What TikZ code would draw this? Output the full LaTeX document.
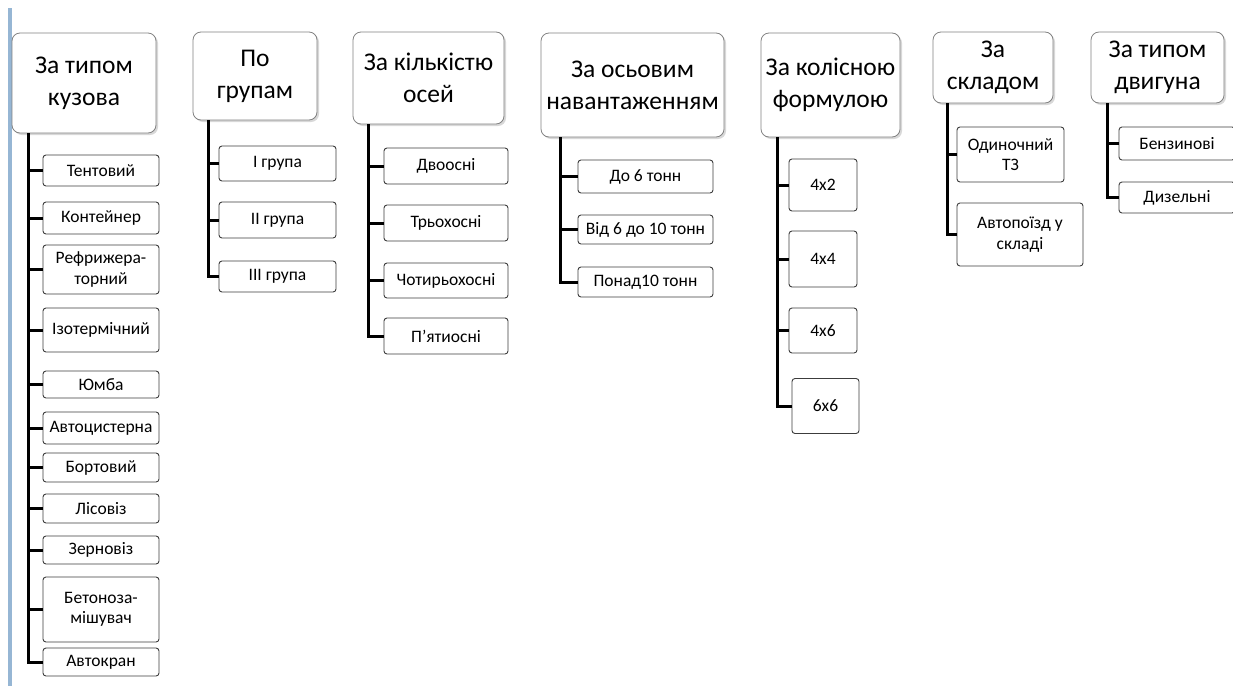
\documentclass[tikz,border=0pt]{standalone}
\usepackage{fontspec}
\setmainfont{Carlito}
\usetikzlibrary{shadows}
\definecolor{edgeblue}{RGB}{150,182,212}
\definecolor{boxline}{RGB}{60,60,60}
\definecolor{headline}{RGB}{130,130,130}

\begin{document}
\begin{tikzpicture}[x=1pt,y=-1pt,
  head/.style={draw=headline,line width=0.8pt,fill=white,rounded corners=8pt,
    align=center,inner sep=0pt,font=\fontsize{25.5}{32}\selectfont,
    drop shadow={shadow xshift=2pt,shadow yshift=-2pt,opacity=0.3,fill=gray}},
  item/.style={draw=boxline,line width=0.9pt,fill=white,rounded corners=3pt,
    align=center,inner sep=0pt,font=\fontsize{17.5}{20.5}\selectfont},
  link/.style={line width=3pt,black}]
\useasboundingbox (0,0) rectangle (1233,686);
\clip (0,0) rectangle (1233,686);
\fill[white] (0,0) rectangle (1233,686);
\draw[edgeblue,line width=3.5pt] (10,8) -- (10,686);

% headers
\node[head,minimum width=144,minimum height=100] (h1) at (84,83) {За типом\\кузова};
\node[head,minimum width=124,minimum height=88] (h2) at (255,76) {По\\групам};
\node[head,minimum width=151,minimum height=92] (h3) at (428.5,78) {За кількістю\\осей};
\node[head,minimum width=183,minimum height=104] (h4) at (632.5,85) {За осьовим\\навантаженням};
\node[head,minimum width=139,minimum height=104] (h5) at (830.5,85) {За колісною\\формулою};
\node[head,minimum width=120,minimum height=71] (h6) at (993,67.5) {За\\складом};
\node[head,minimum width=133,minimum height=71] (h7) at (1157.5,67.5) {За типом\\двигуна};

% trunk tops
\coordinate (t1) at (28,133);
\coordinate (t2) at (208,120);
\coordinate (t3) at (368,124);
\coordinate (t4) at (560,137);
\coordinate (t5) at (777,137);
\coordinate (t6) at (947,103);
\coordinate (t7) at (1107,103);

% body types
\node[item,minimum width=116,minimum height=31] (a1) at (101,170.5) {Тентовий};
\node[item,minimum width=116,minimum height=32] (a2) at (101,218) {Контейнер};
\node[item,minimum width=116,minimum height=49] (a3) at (101,269.5) {Рефрижера-\\торний};
\node[item,minimum width=116,minimum height=44] (a4) at (101,330) {Ізотермічний};
\node[item,minimum width=116,minimum height=27] (a5) at (101,384.5) {Юмба};
\node[item,minimum width=116,minimum height=32] (a6) at (101,428) {Автоцистерна};
\node[item,minimum width=116,minimum height=29] (a7) at (101,467.5) {Бортовий};
\node[item,minimum width=116,minimum height=29] (a8) at (101,508.5) {Лісовіз};
\node[item,minimum width=116,minimum height=28] (a9) at (101,550) {Зерновіз};
\node[item,minimum width=116,minimum height=65] (a10) at (101,609.5) {Бетоноза-\\мішувач};
\node[item,minimum width=116,minimum height=28] (a11) at (101,662) {Автокран};

% groups
\node[item,minimum width=117,minimum height=35] (b1) at (277.5,163.5) {I група};
\node[item,minimum width=117,minimum height=36] (b2) at (277.5,220) {II група};
\node[item,minimum width=117,minimum height=31] (b3) at (277.5,276.5) {III група};

% axles
\node[item,minimum width=124,minimum height=36] (c1) at (446,166) {Двоосні};
\node[item,minimum width=124,minimum height=36] (c2) at (446,223) {Трьохосні};
\node[item,minimum width=124,minimum height=35] (c3) at (446,280.5) {Чотирьохосні};
\node[item,minimum width=124,minimum height=36] (c4) at (446,336) {П’ятиосні};

% axle load
\node[item,minimum width=135,minimum height=33] (d1) at (645.5,176.5) {До 6 тонн};
\node[item,minimum width=135,minimum height=29] (d2) at (645.5,229.5) {Від 6 до 10 тонн};
\node[item,minimum width=135,minimum height=30] (d3) at (645.5,282) {Понад10 тонн};

% wheel formula
\node[item,minimum width=68,minimum height=52] (e1) at (823,185) {4x2};
\node[item,minimum width=68,minimum height=56] (e2) at (823,259) {4x4};
\node[item,minimum width=68,minimum height=45] (e3) at (823,330.5) {4x6};
\node[item,minimum width=67,minimum height=55] (e4) at (825.5,406) {6x6};

% composition
\node[item,minimum width=107,minimum height=55] (f1) at (1010.5,154.5) {Одиночний\\ТЗ};
\node[item,minimum width=126,minimum height=63] (f2) at (1020,234.5) {Автопоїзд у\\складі};

% engine
\node[item,minimum width=116,minimum height=33] (g1) at (1177,143.5) {Бензинові};
\node[item,minimum width=116,minimum height=31] (g2) at (1177,197.5) {Дизельні};

% connectors
\foreach \n in {a1,a2,a3,a4,a5,a6,a7,a8,a9,a10,a11} \draw[link] (t1) |- (\n.west);
\foreach \n in {b1,b2,b3} \draw[link] (t2) |- (\n.west);
\foreach \n in {c1,c2,c3,c4} \draw[link] (t3) |- (\n.west);
\foreach \n in {d1,d2,d3} \draw[link] (t4) |- (\n.west);
\foreach \n in {e1,e2,e3,e4} \draw[link] (t5) |- (\n.west);
\foreach \n in {f1,f2} \draw[link] (t6) |- (\n.west);
\foreach \n in {g1,g2} \draw[link] (t7) |- (\n.west);
\end{tikzpicture}
\end{document}
